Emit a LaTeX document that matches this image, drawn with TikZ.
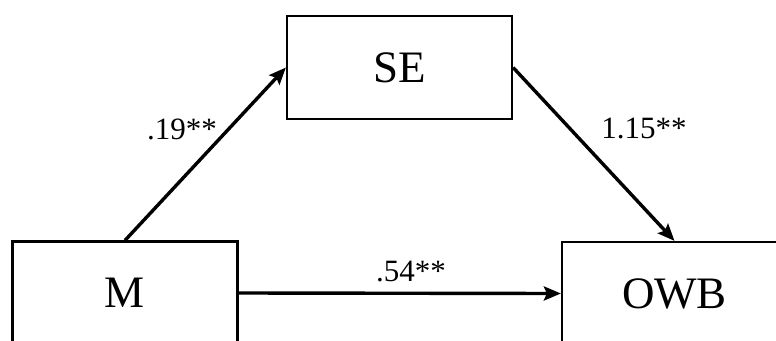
\documentclass[tikz,border=0pt]{standalone}
\usepackage{fontspec}
\setmainfont{Liberation Serif}
\usetikzlibrary{arrows.meta}
\begin{document}
\begin{tikzpicture}[x=1pt,y=-1pt,
  varbox/.style={draw=black,line width=2.2pt,minimum width=225pt,minimum height=103pt,inner sep=0pt,font=\fontsize{45}{50}\selectfont},
  path/.style={line width=3.4pt,-{Stealth[length=17pt,width=14pt,inset=3pt]}},
  coef/.style={anchor=base,inner sep=0pt,font=\fontsize{31}{36}\selectfont}]
\useasboundingbox (0,0) rectangle (776,340);
\clip (0,0) rectangle (776,340);
\node[varbox] (M) at (125,293) {M};
\node[varbox] (SE) at (399.5,67.5) {SE};
\node[varbox] (OWB) at (674.5,293.5) {OWB};
\draw[path] (M.north) -- (SE.west);
\draw[path] (SE.east) -- (OWB.north);
\draw[path] (M.east) -- (OWB.west);
\node[coef] (c1) at (182,139) {.19**};
\node[coef] (c2) at (644,138) {1.15**};
\node[coef] (c3) at (411,281) {.54**};
\end{tikzpicture}
\end{document}
